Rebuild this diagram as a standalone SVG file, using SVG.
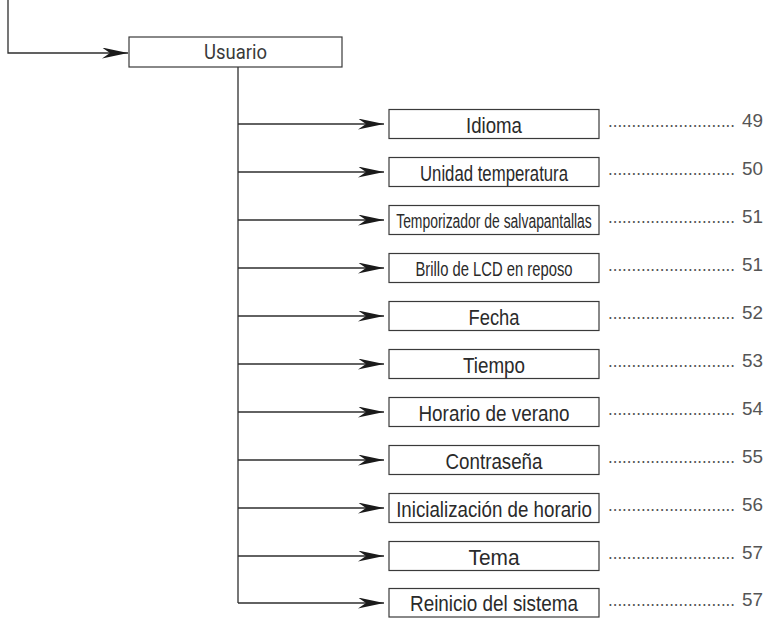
<svg xmlns="http://www.w3.org/2000/svg" width="774" height="618" viewBox="0 0 774 618">
<style>
.box{fill:#fff;stroke:#3a3a3a;stroke-width:1.2}
.lbl{font-family:"Liberation Sans",Arial,sans-serif;font-size:22px;fill:#2a2a2a;text-anchor:middle}
.sm{font-size:20px}
.usr{font-family:Roboto,"Liberation Sans",sans-serif;font-size:20px;fill:#3a3a3a;text-anchor:middle}
.con{fill:none;stroke:#2e2e2e;stroke-width:1.3}
.dots{font-family:"Liberation Sans",Arial,sans-serif;font-size:18px;fill:#555}
.num{font-family:"Liberation Sans",Arial,sans-serif;font-size:19px;fill:#555;text-anchor:end}
</style>
<defs>
<marker id="arr" markerUnits="userSpaceOnUse" viewBox="0 0 26 11" refX="26" refY="5.5" markerWidth="26" markerHeight="11" orient="auto">
<path d="M0,0 L26,5.5 L0,11 L8,5.5 Z" fill="#1a1a1a"/>
</marker>
</defs>
<g id="connectors">
<path class="con" d="M8,0 V53 H128" marker-end="url(#arr)"/>
<path class="con" d="M238,67 V603"/>
<path class="con" d="M238,124 H384" marker-end="url(#arr)"/>
<path class="con" d="M238,172 H384" marker-end="url(#arr)"/>
<path class="con" d="M238,220 H384" marker-end="url(#arr)"/>
<path class="con" d="M238,268 H384" marker-end="url(#arr)"/>
<path class="con" d="M238,316 H384" marker-end="url(#arr)"/>
<path class="con" d="M238,364 H384" marker-end="url(#arr)"/>
<path class="con" d="M238,412 H384" marker-end="url(#arr)"/>
<path class="con" d="M238,460 H384" marker-end="url(#arr)"/>
<path class="con" d="M238,508 H384" marker-end="url(#arr)"/>
<path class="con" d="M238,556 H384" marker-end="url(#arr)"/>
<path class="con" d="M238,603 H384" marker-end="url(#arr)"/>
</g>
<g id="usuario">
<rect class="box" x="129" y="37" width="213" height="30"/>
<text class="usr" x="235.5" y="59" textLength="63" lengthAdjust="spacingAndGlyphs">Usuario</text>
</g>
<g id="idioma">
<rect class="box" x="389" y="109.5" width="210" height="29"/>
<text class="lbl" x="494" y="133" textLength="56" lengthAdjust="spacingAndGlyphs">Idioma</text>
<text class="dots" x="608" y="127" textLength="127" lengthAdjust="spacingAndGlyphs">...........................</text>
<text class="num" x="763" y="127" textLength="21" lengthAdjust="spacingAndGlyphs">49</text>
</g>
<g id="unidad">
<rect class="box" x="389" y="157.5" width="210" height="29"/>
<text class="lbl" x="494" y="181" textLength="148" lengthAdjust="spacingAndGlyphs">Unidad temperatura</text>
<text class="dots" x="608" y="175" textLength="127" lengthAdjust="spacingAndGlyphs">...........................</text>
<text class="num" x="763" y="175" textLength="21" lengthAdjust="spacingAndGlyphs">50</text>
</g>
<g id="temporizador">
<rect class="box" x="389" y="205.5" width="210" height="29"/>
<text class="lbl sm" transform="translate(494,228) scale(0.696,1)" x="0" y="0">Temporizador de salvapantallas</text>
<text class="dots" x="608" y="223" textLength="127" lengthAdjust="spacingAndGlyphs">...........................</text>
<text class="num" x="763" y="223" textLength="21" lengthAdjust="spacingAndGlyphs">51</text>
</g>
<g id="brillo">
<rect class="box" x="389" y="253.5" width="210" height="29"/>
<text class="lbl sm" transform="translate(494,276) scale(0.74,1)" x="0" y="0">Brillo de LCD en reposo</text>
<text class="dots" x="608" y="271" textLength="127" lengthAdjust="spacingAndGlyphs">...........................</text>
<text class="num" x="763" y="271" textLength="21" lengthAdjust="spacingAndGlyphs">51</text>
</g>
<g id="fecha">
<rect class="box" x="389" y="301.5" width="210" height="29"/>
<text class="lbl" x="494" y="325" textLength="51" lengthAdjust="spacingAndGlyphs">Fecha</text>
<text class="dots" x="608" y="319" textLength="127" lengthAdjust="spacingAndGlyphs">...........................</text>
<text class="num" x="763" y="319" textLength="21" lengthAdjust="spacingAndGlyphs">52</text>
</g>
<g id="tiempo">
<rect class="box" x="389" y="349.5" width="210" height="29"/>
<text class="lbl" x="494" y="373" textLength="62" lengthAdjust="spacingAndGlyphs">Tiempo</text>
<text class="dots" x="608" y="367" textLength="127" lengthAdjust="spacingAndGlyphs">...........................</text>
<text class="num" x="763" y="367" textLength="21" lengthAdjust="spacingAndGlyphs">53</text>
</g>
<g id="horario-verano">
<rect class="box" x="389" y="397.5" width="210" height="29"/>
<text class="lbl" x="494" y="421" textLength="151" lengthAdjust="spacingAndGlyphs">Horario de verano</text>
<text class="dots" x="608" y="415" textLength="127" lengthAdjust="spacingAndGlyphs">...........................</text>
<text class="num" x="763" y="415" textLength="21" lengthAdjust="spacingAndGlyphs">54</text>
</g>
<g id="contrasena">
<rect class="box" x="389" y="445.5" width="210" height="29"/>
<text class="lbl" x="494" y="469" textLength="97" lengthAdjust="spacingAndGlyphs">Contraseña</text>
<text class="dots" x="608" y="463" textLength="127" lengthAdjust="spacingAndGlyphs">...........................</text>
<text class="num" x="763" y="463" textLength="21" lengthAdjust="spacingAndGlyphs">55</text>
</g>
<g id="inicializacion">
<rect class="box" x="389" y="493.5" width="210" height="29"/>
<text class="lbl" transform="translate(494,517) scale(0.852,1)" x="0" y="0">Inicialización de horario</text>
<text class="dots" x="608" y="511" textLength="127" lengthAdjust="spacingAndGlyphs">...........................</text>
<text class="num" x="763" y="511" textLength="21" lengthAdjust="spacingAndGlyphs">56</text>
</g>
<g id="tema">
<rect class="box" x="389" y="541.5" width="210" height="29"/>
<text class="lbl" x="494" y="565" textLength="51" lengthAdjust="spacingAndGlyphs">Tema</text>
<text class="dots" x="608" y="559" textLength="127" lengthAdjust="spacingAndGlyphs">...........................</text>
<text class="num" x="763" y="559" textLength="21" lengthAdjust="spacingAndGlyphs">57</text>
</g>
<g id="reinicio">
<rect class="box" x="389" y="588.5" width="210" height="28.5"/>
<text class="lbl" x="494" y="611" textLength="168" lengthAdjust="spacingAndGlyphs">Reinicio del sistema</text>
<text class="dots" x="608" y="606" textLength="127" lengthAdjust="spacingAndGlyphs">...........................</text>
<text class="num" x="763" y="606" textLength="21" lengthAdjust="spacingAndGlyphs">57</text>
</g>
</svg>
